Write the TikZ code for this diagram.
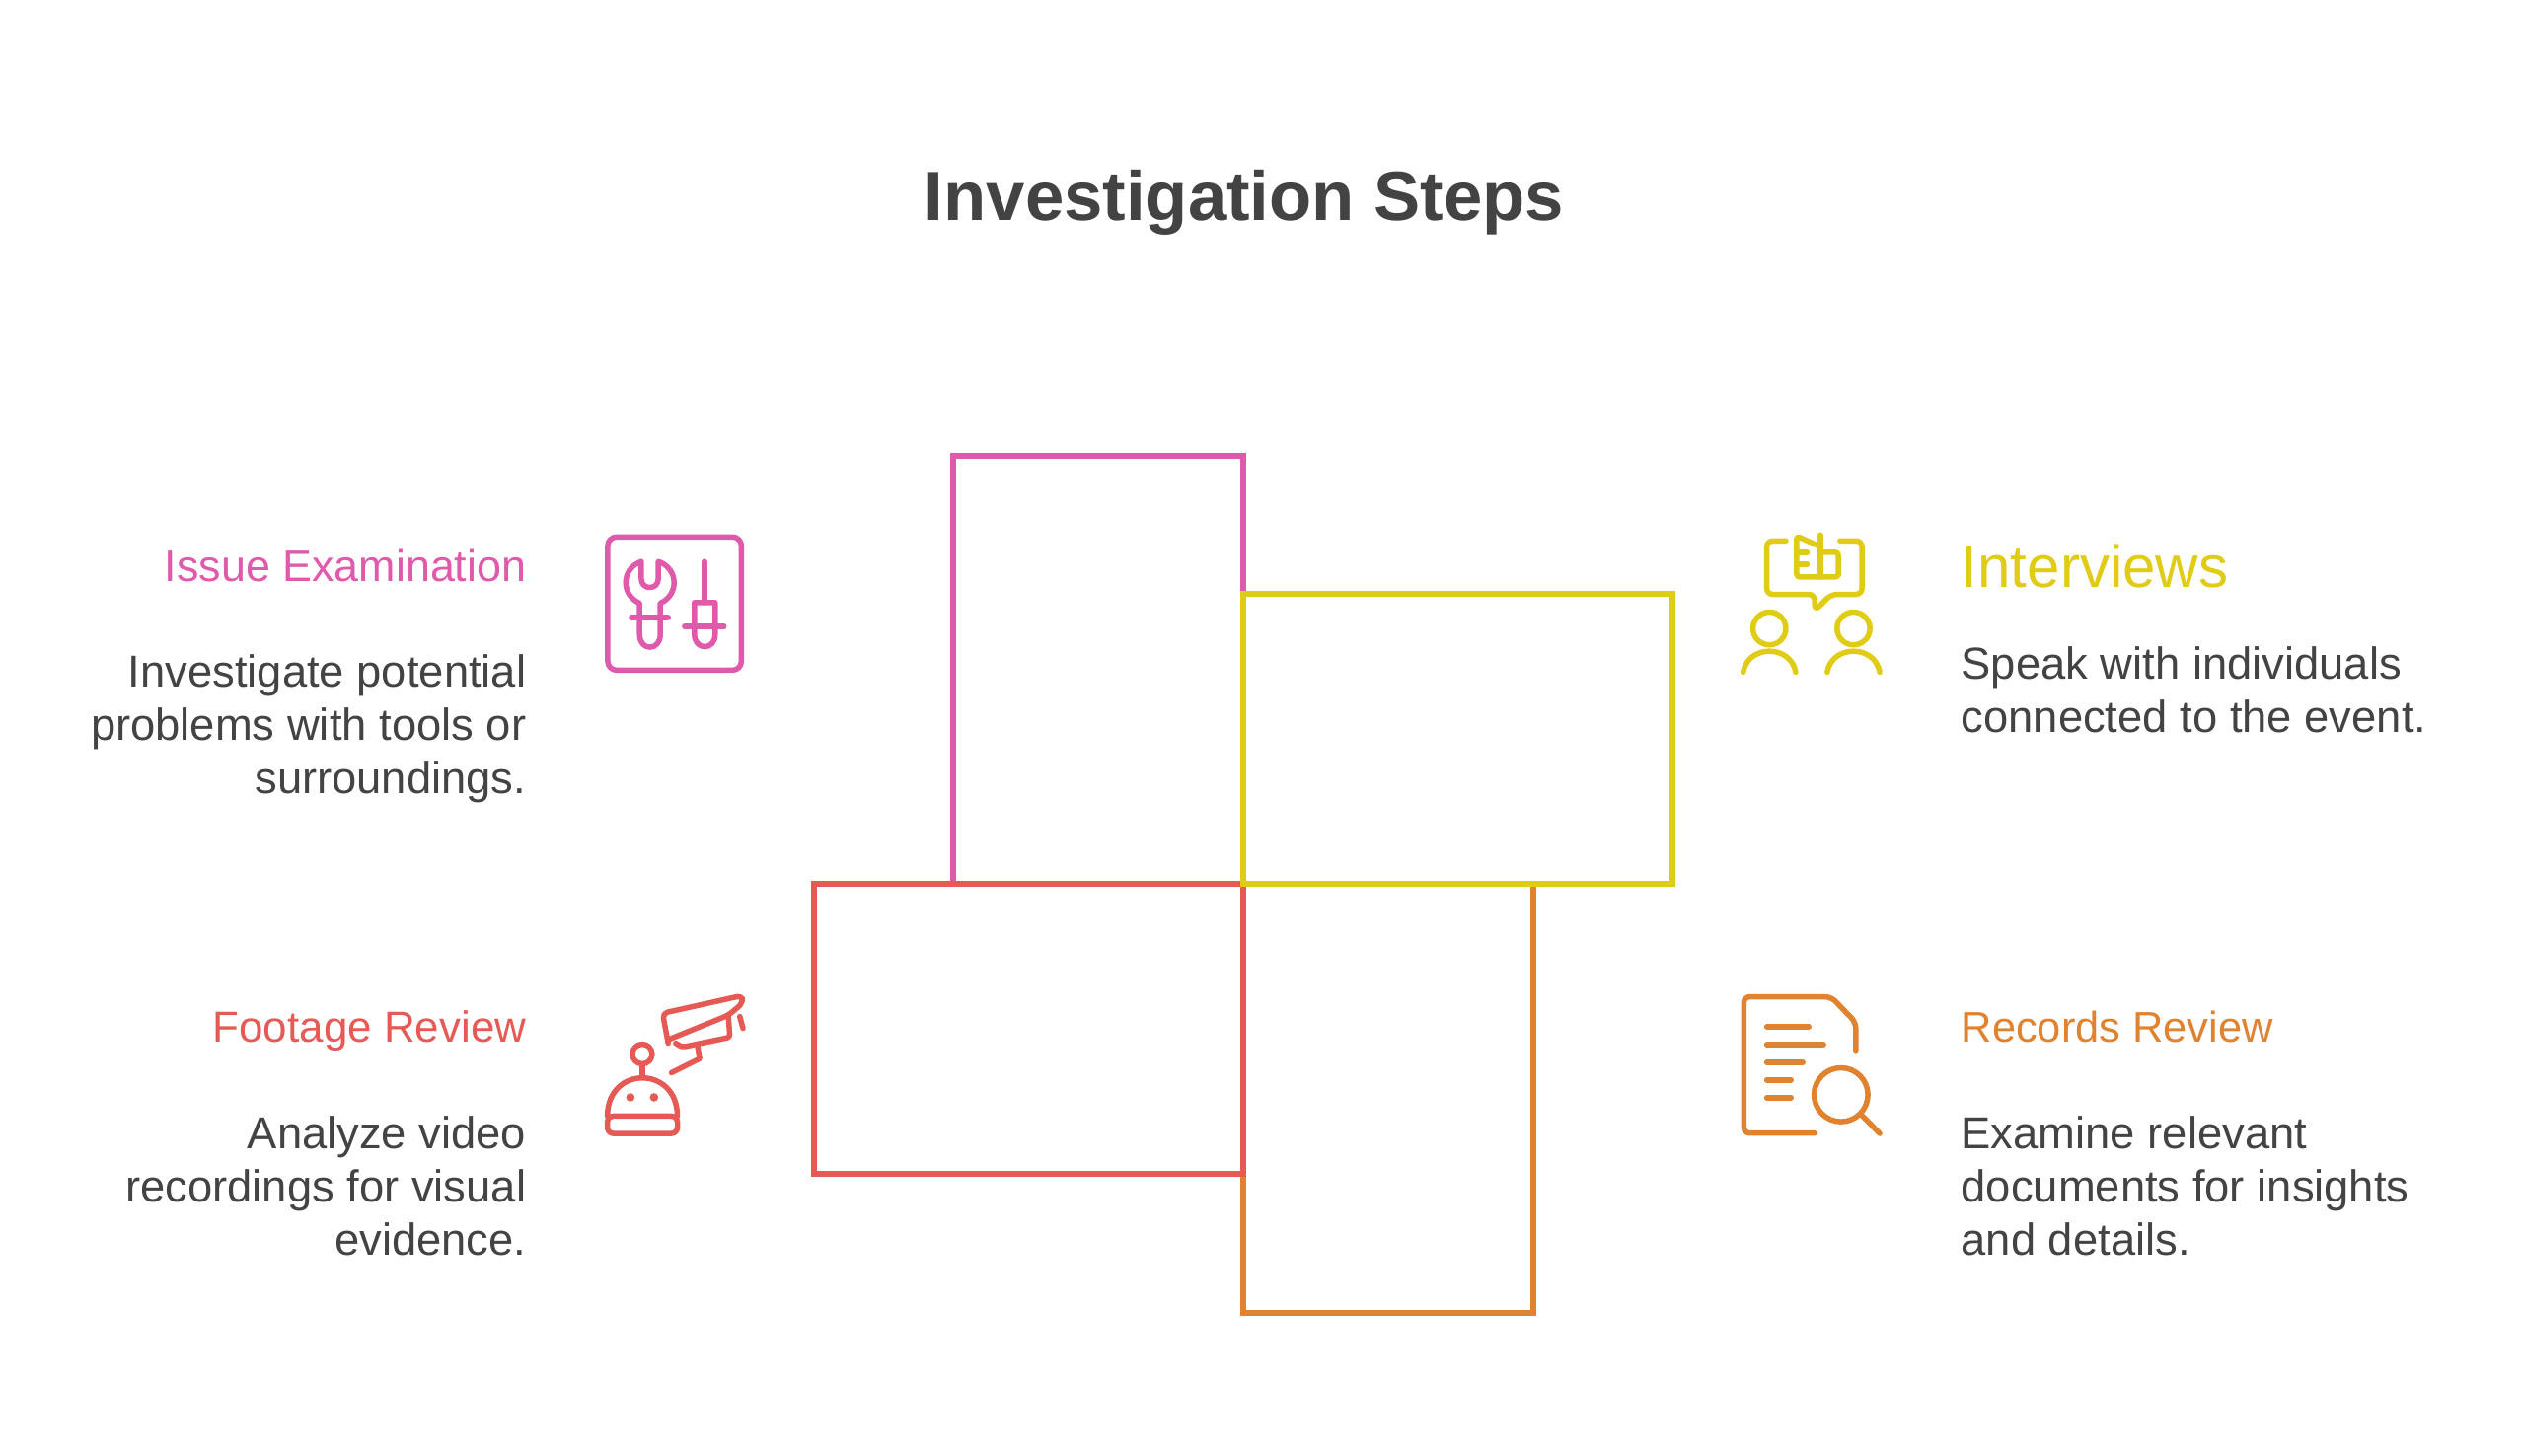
\documentclass[tikz,border=0pt]{standalone}
\usepackage{fontspec}
\setmainfont{Liberation Sans}
\definecolor{pinkc}{HTML}{E05AAB}
\definecolor{yellowc}{HTML}{E0CB15}
\definecolor{redc}{HTML}{E65A55}
\definecolor{orangec}{HTML}{E08330}
\definecolor{inkc}{HTML}{434343}
\tikzset{
	panel/.style={draw=#1,line width=.06cm,anchor=north west,inner sep=0pt,outer sep=0pt},
	headl/.style={text=#1,anchor=east,inner sep=0pt,font=\fontsize{12.5}{15.3}\selectfont},
	headr/.style={text=#1,anchor=west,inner sep=0pt,font=\fontsize{12.35}{15.3}\selectfont},
	bodyl/.style={text=inkc,anchor=north east,align=right,inner sep=0pt,font=\fontsize{12.9}{15.3}\selectfont},
	bodyr/.style={text=inkc,anchor=north west,align=left,inner sep=0pt,font=\fontsize{12.9}{15.3}\selectfont},
	icon/.style 2 args={shift={(#1,#2)},x=.003333cm,y=-.003333cm,line width=.055cm,line cap=round,line join=round}
}
\begin{document}
\begin{tikzpicture}[x=.01cm,y=-.01cm]
	\useasboundingbox (0,0) rectangle (2556,1476);
	\node (title) at (1261,205) [text=inkc,font=\fontsize{20.1}{25}\selectfont\bfseries] {Investigation Steps};

	\node (issue) at (966,462) [panel=pinkc,minimum width=2.94cm,minimum height=4.34cm] {};
	\node (records) at (1260,896) [panel=orangec,minimum width=2.94cm,minimum height=4.35cm] {};
	\node (footage) at (825,896) [panel=redc,minimum width=4.35cm,minimum height=2.94cm] {};
	\node (interviews) at (1260,602) [panel=yellowc,minimum width=4.35cm,minimum height=2.94cm] {};

	\node (issue-head) at (534,573) [headl=pinkc,font=\fontsize{12.75}{15.3}\selectfont] {Issue Examination};
	\node (issue-text) at (534,663) [bodyl] {Investigate potential\\problems with tools or\\surroundings.};
	\node (footage-head) at (534,1045) [headl=redc] {Footage Review};
	\node (footage-text) at (534,1131) [bodyl] {Analyze video\\recordings for visual\\evidence.};
	\node (interviews-head) at (1987,574) [headr=yellowc,font=\fontsize{17.1}{19}\selectfont] {Interviews};
	\node (interviews-text) at (1987,655) [bodyr] {Speak with individuals\\connected to the event.};
	\node (records-head) at (1987,1041) [headr=orangec] {Records Review};
	\node (records-text) at (1987,1131) [bodyr] {Examine relevant\\documents for insights\\and details.};

	\begin{scope}[icon={590}{510},draw=pinkc]
		\draw[rounded corners=.09cm] (78,103) rectangle (485,509);
		\draw (180,178) -- (180,230) .. controls (180,266) and (232,266) .. (232,230) -- (232,178)
			.. controls (295,200) and (295,280) .. (238,305) -- (238,400)
			.. controls (238,452) and (175,452) .. (175,400) -- (175,305)
			.. controls (118,280) and (118,200) .. (180,178);
		\draw (150,349) -- (262,349);
		\draw (372,178) -- (372,303);
		\draw (342,400) -- (342,303) -- (405,303) -- (405,400) .. controls (405,450) and (342,450) .. (342,400);
		\draw (312,376) -- (432,376);
	\end{scope}

	\begin{scope}[icon={1750}{510},draw=yellowc]
		\draw[rounded corners=.06cm] (180,115) -- (122,115) -- (122,278) -- (268,278) -- (268,328) -- (318,278) -- (412,278) -- (412,115) -- (345,115);
		\draw[rounded corners=.03cm] (285,133) -- (213,100) -- (213,225) -- (340,225) -- (340,150) -- (285,150);
		\draw (285,97) -- (285,225);
		\draw (213,150) -- (245,150);
		\draw (213,187) -- (245,187);
		\draw (130,382) circle (50);
		\draw (386,382) circle (50);
		\draw (50,515) .. controls (65,430) and (195,430) .. (210,515);
		\draw (306,515) .. controls (321,430) and (451,430) .. (466,515);
	\end{scope}

	\begin{scope}[icon={590}{990},draw=redc]
		\draw (183,236) circle (30);
		\draw (183,266) -- (183,300);
		\draw (77,425) .. controls (77,270) and (290,270) .. (290,425);
		\draw[rounded corners=.06cm] (77,425) -- (77,478) -- (290,478) -- (290,425) -- cycle;
		\fill[redc] (147,368) circle (13);
		\fill[redc] (219,368) circle (13);
		\draw[rounded corners=.05cm] (262,203) -- (245,112) -- (488,58) -- (488,82) -- (445,118) -- (268,190);
		\draw[rounded corners=.03cm] (285,203) -- (305,215) -- (450,185) -- (445,118);
		\draw (352,215) -- (358,250) -- (272,293);
		\draw (480,122) -- (490,158);
	\end{scope}

	\begin{scope}[icon={1750}{990},draw=orangec]
		\draw[rounded corners=.06cm] (268,477) -- (52,477) -- (52,62) -- (318,62) -- (393,140) -- (393,225);
		\draw (122,153) -- (250,153);
		\draw (122,207) -- (295,207);
		\draw (122,261) -- (232,261);
		\draw (122,315) -- (196,315);
		\draw (122,369) -- (196,369);
		\draw (348,360) circle (82);
		\draw (412,423) -- (466,478);
	\end{scope}
\end{tikzpicture}
\end{document}
